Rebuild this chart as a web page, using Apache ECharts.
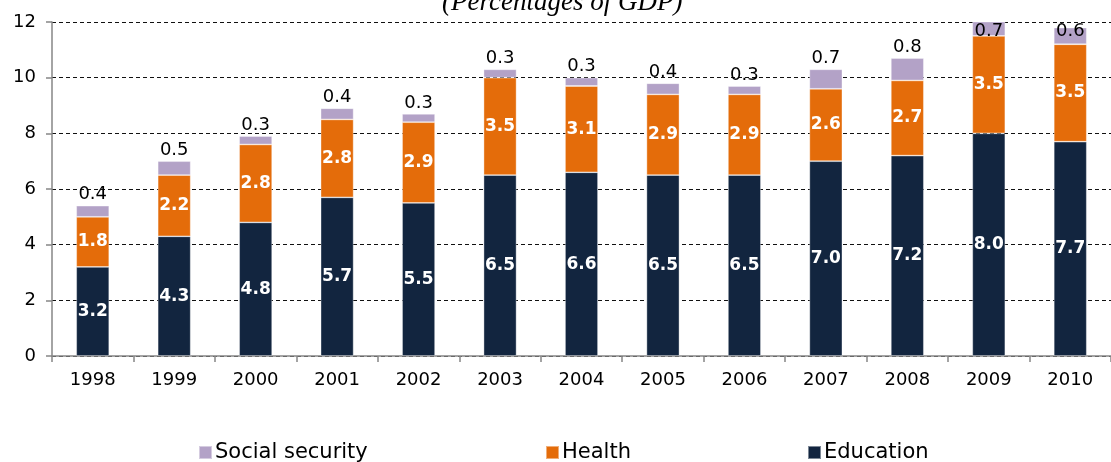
<!DOCTYPE html>
<html>
<head>
<meta charset="utf-8">
<title>Social spending by sector</title>
<script src="https://cdn.jsdelivr.net/npm/echarts@6/dist/echarts.min.js"></script>
<style>
  html, body { margin: 0; padding: 0; background: #ffffff; }
  #chart { width: 1111px; height: 462px; }
</style>
</head>
<body>
<div id="chart"></div>
<script>
// Public social spending by sector, percentages of GDP
var years = ['1998', '1999', '2000', '2001', '2002', '2003', '2004', '2005', '2006', '2007', '2008', '2009', '2010'];
var education = [3.2, 4.3, 4.8, 5.7, 5.5, 6.5, 6.6, 6.5, 6.5, 7.0, 7.2, 8.0, 7.7];
var health = [1.8, 2.2, 2.8, 2.8, 2.9, 3.5, 3.1, 2.9, 2.9, 2.6, 2.7, 3.5, 3.5];
var socialSecurity = [0.4, 0.5, 0.3, 0.4, 0.3, 0.3, 0.3, 0.4, 0.3, 0.7, 0.8, 0.7, 0.6];
var yTicks = [0, 2, 4, 6, 8, 10, 12];

var GRID_TOP = 22;
var FONT = '"DejaVu Sans", sans-serif';
var colors = { social: '#b3a2c7', health: '#e46c0a', education: '#12253f' };

var chart = echarts.init(document.getElementById('chart'), null, { renderer: 'canvas' });

function fmt(p) { return p.value.toFixed(1); }

function legendAt(name, left) {
  return {
    data: [name],
    left: left,
    top: 442,
    padding: 0,
    itemWidth: 13,
    itemHeight: 13,
    itemGap: 0,
    icon: 'rect',
    selectedMode: false,
    textStyle: { fontFamily: FONT, fontSize: 21, color: '#000', padding: [2, 0, 0, -2] }
  };
}

var insideLabel = {
  show: true,
  position: 'inside',
  color: '#ffffff',
  fontFamily: FONT,
  fontWeight: 'bold',
  fontSize: 17,
  formatter: fmt
};

var option = {
  animation: false,
  backgroundColor: '#ffffff',
  title: {
    text: '(Percentages of GDP)',
    left: 442,
    top: -11,
    padding: 0,
    textStyle: {
      fontFamily: '"Liberation Serif", "Times New Roman", serif',
      fontStyle: 'italic',
      fontWeight: 'normal',
      fontSize: 27,
      lineHeight: 27,
      color: '#000'
    }
  },
  legend: [
    legendAt('Social security', 198),
    legendAt('Health', 545),
    legendAt('Education', 807)
  ],
  grid: { left: 52, right: -11, top: GRID_TOP, bottom: 106, containLabel: false },
  xAxis: {
    type: 'category',
    data: years,
    axisLine: { lineStyle: { color: '#868686', width: 1.5 } },
    axisTick: { show: true, alignWithLabel: false, length: 6, lineStyle: { color: '#868686', width: 1.5 } },
    axisLabel: { fontFamily: FONT, fontSize: 18, color: '#000', margin: 15 },
    splitLine: { show: false }
  },
  yAxis: {
    type: 'value',
    min: yTicks[0],
    max: yTicks[yTicks.length - 1],
    interval: yTicks[1] - yTicks[0],
    axisLine: { show: true, lineStyle: { color: '#868686', width: 1.5 } },
    axisTick: { show: true, length: 6, lineStyle: { color: '#868686', width: 1.5 } },
    axisLabel: { fontFamily: FONT, fontSize: 18, color: '#000', margin: 16 },
    splitLine: { show: true, lineStyle: { color: '#111', width: 1, type: [4, 3] } }
  },
  series: [
    {
      name: 'Education',
      type: 'bar',
      stack: 'total',
      barWidth: 33,
      clip: true,
      data: education,
      itemStyle: { color: colors.education, borderColor: 'rgba(255,255,255,0.45)', borderWidth: 0.8 },
      label: insideLabel
    },
    {
      name: 'Health',
      type: 'bar',
      stack: 'total',
      barWidth: 33,
      clip: true,
      data: health,
      itemStyle: { color: colors.health, borderColor: 'rgba(255,255,255,0.45)', borderWidth: 0.8 },
      label: insideLabel
    },
    {
      name: 'Social security',
      type: 'bar',
      stack: 'total',
      barWidth: 33,
      clip: true,
      data: socialSecurity,
      itemStyle: { color: colors.social, borderColor: 'rgba(255,255,255,0.45)', borderWidth: 0.8 },
      label: {
        show: true,
        position: 'top',
        distance: 2,
        color: '#000',
        fontFamily: FONT,
        fontSize: 18,
        formatter: fmt
      },
      // keep value labels inside the plot area when the stack reaches the top
      labelLayout: function (params) {
        var r = params.labelRect;
        if (r.y < GRID_TOP) {
          return { dy: GRID_TOP - r.y };
        }
        return {};
      }
    }
  ]
};

chart.setOption(option);
</script>
</body>
</html>
